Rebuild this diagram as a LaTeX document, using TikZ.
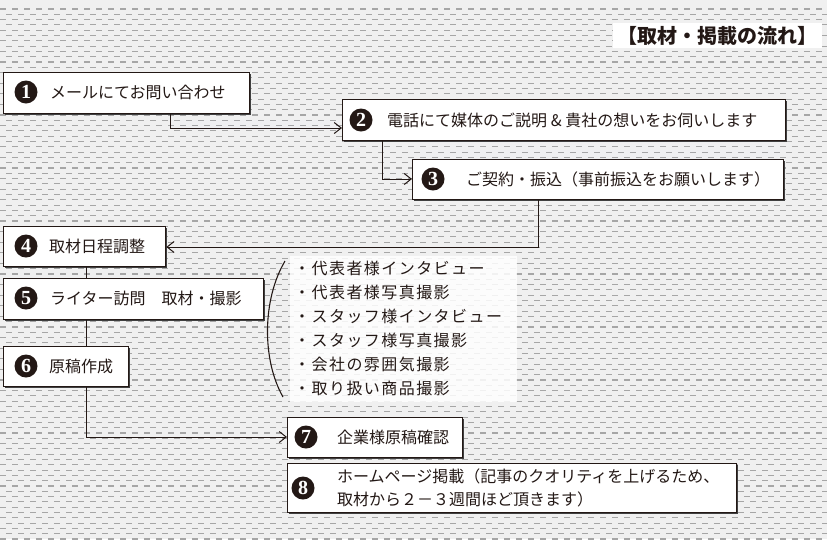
\documentclass[tikz,border=0pt]{standalone}
\usepackage{fontspec}
\newfontfamily\jp{Noto Sans CJK JP}
\newfontfamily\jpls[LetterSpace=9]{Noto Sans CJK JP}
\newfontfamily\numf{Liberation Serif}
\usetikzlibrary{arrows.meta,shadows}
\definecolor{bgc}{HTML}{F0F0F0}
\definecolor{ink}{HTML}{231815}
\begin{document}
\begin{tikzpicture}[x=1pt,y=-1pt,
  box/.style={draw=ink, line width=1.3pt, fill=white, inner sep=0, anchor=north west,
    drop shadow={shadow xshift=1.3pt, shadow yshift=-1.3pt, fill=black!75, opacity=1}},
  num/.style={circle, fill=ink, inner sep=0, minimum size=23, text=white,
    font=\numf\bfseries\fontsize{20}{20}\selectfont},
  lbl/.style={anchor=west, inner sep=0, text=ink, font=\jp\fontsize{16}{16}\selectfont},
  item/.style={anchor=west, inner sep=0, text=ink, font=\jpls\fontsize{16}{16}\selectfont},
  conn/.style={line width=1pt, draw=ink},
  arr/.style={conn, -{Straight Barb[length=7pt,width=11pt,line width=1pt]}},
  bgline/.style={line width=1.1pt, draw=black!35, dash pattern=on 6pt off 6pt}]
\useasboundingbox (0,0) rectangle (827,539);
\fill[bgc] (0,0) rectangle (827,539);
\begin{scope}
\clip (0,0) rectangle (827,539);
\foreach \i in {0,...,100}{
  \pgfmathsetmacro\yy{9+5.3*\i}
  \ifodd\i \def\ph{6}\else\def\ph{0}\fi
  \draw[bgline, dash phase=\ph pt] (0,\yy) -- (827,\yy);
}
\end{scope}

% title
\node[fill=white, inner sep=0, minimum width=209, minimum height=25, text=ink,
  font=\jp\bfseries\fontsize{20}{20}\selectfont] (ttl) at (717.5,35.5) {【取材・掲載の流れ】};

% boxes
\node[box, minimum width=246, minimum height=41] (b1) at (3,72) {};
\node[box, minimum width=443, minimum height=41] (b2) at (342,99) {};
\node[box, minimum width=371, minimum height=40] (b3) at (412,159) {};
\node[box, minimum width=162, minimum height=40] (b4) at (3,226) {};
\node[box, minimum width=260, minimum height=41] (b5) at (3,278) {};
\node[box, minimum width=125, minimum height=40] (b6) at (3,346) {};
\node[box, minimum width=175, minimum height=40] (b7) at (287,417) {};
\node[box, minimum width=449, minimum height=49] (b8) at (287,463) {};

% numbers
\node[num] (n1) at (26,92) {1};
\node[num] (n2) at (361,120) {2};
\node[num] (n3) at (433,179) {3};
\node[num] (n4) at (26,246) {4};
\node[num] (n5) at (26,298) {5};
\node[num] (n6) at (26,366) {6};
\node[num] (n7) at (306,437) {7};
\node[num] (n8) at (303,488) {8};

% labels
\node[lbl] (t1) at (50,92) {メールにてお問い合わせ};
\node[lbl] (t2) at (387,120) {電話にて媒体のご説明 \& 貴社の想いをお伺いします};
\node[lbl] (t3) at (466,179) {ご契約・振込（事前振込をお願いします）};
\node[lbl] (t4) at (49,246) {取材日程調整};
\node[lbl] (t5) at (50,298) {ライター訪問　取材・撮影};
\node[lbl] (t6) at (49,366) {原稿作成};
\node[lbl] (t7) at (337,437) {企業様原稿確認};
\node[lbl, align=left, font=\jp\fontsize{16}{23}\selectfont] (t8) at (337,488)
  {ホームページ掲載（記事のクオリティを上げるため、\\取材から２－３週間ほど頂きます）};

% connectors
\coordinate (k1) at (170,128);
\coordinate (k2) at (382,179);
\coordinate (k3) at (538,247);
\coordinate (k4) at (86,437);
\draw[arr] (b1.south -| k1) |- (b2.west |- k1);
\draw[arr] (b2.south -| k2) |- (b3.west |- k2);
\draw[arr] (b3.south -| k3) |- (b4.east |- k3);
\draw[conn] (b4.south -| k4) -- (b5.north -| k4);
\draw[conn] (b5.south -| k4) -- (b6.north -| k4);
\draw[arr] (b6.south -| k4) |- (b7.west |- k4);

% list
\node[fill=white, fill opacity=0.85, inner sep=0, anchor=north west,
  minimum width=227, minimum height=146] (lst) at (290,256) {};
\draw[line width=1.1pt, draw=ink] (285,261) .. controls (262,300) and (262,360) .. (283,397);
\node[item] (i1) at (294,268) {・代表者様インタビュー};
\node[item] (i2) at (294,292) {・代表者様写真撮影};
\node[item] (i3) at (294,316) {・スタッフ様インタビュー};
\node[item] (i4) at (294,340) {・スタッフ様写真撮影};
\node[item] (i5) at (294,364) {・会社の雰囲気撮影};
\node[item] (i6) at (294,388) {・取り扱い商品撮影};
\end{tikzpicture}
\end{document}
